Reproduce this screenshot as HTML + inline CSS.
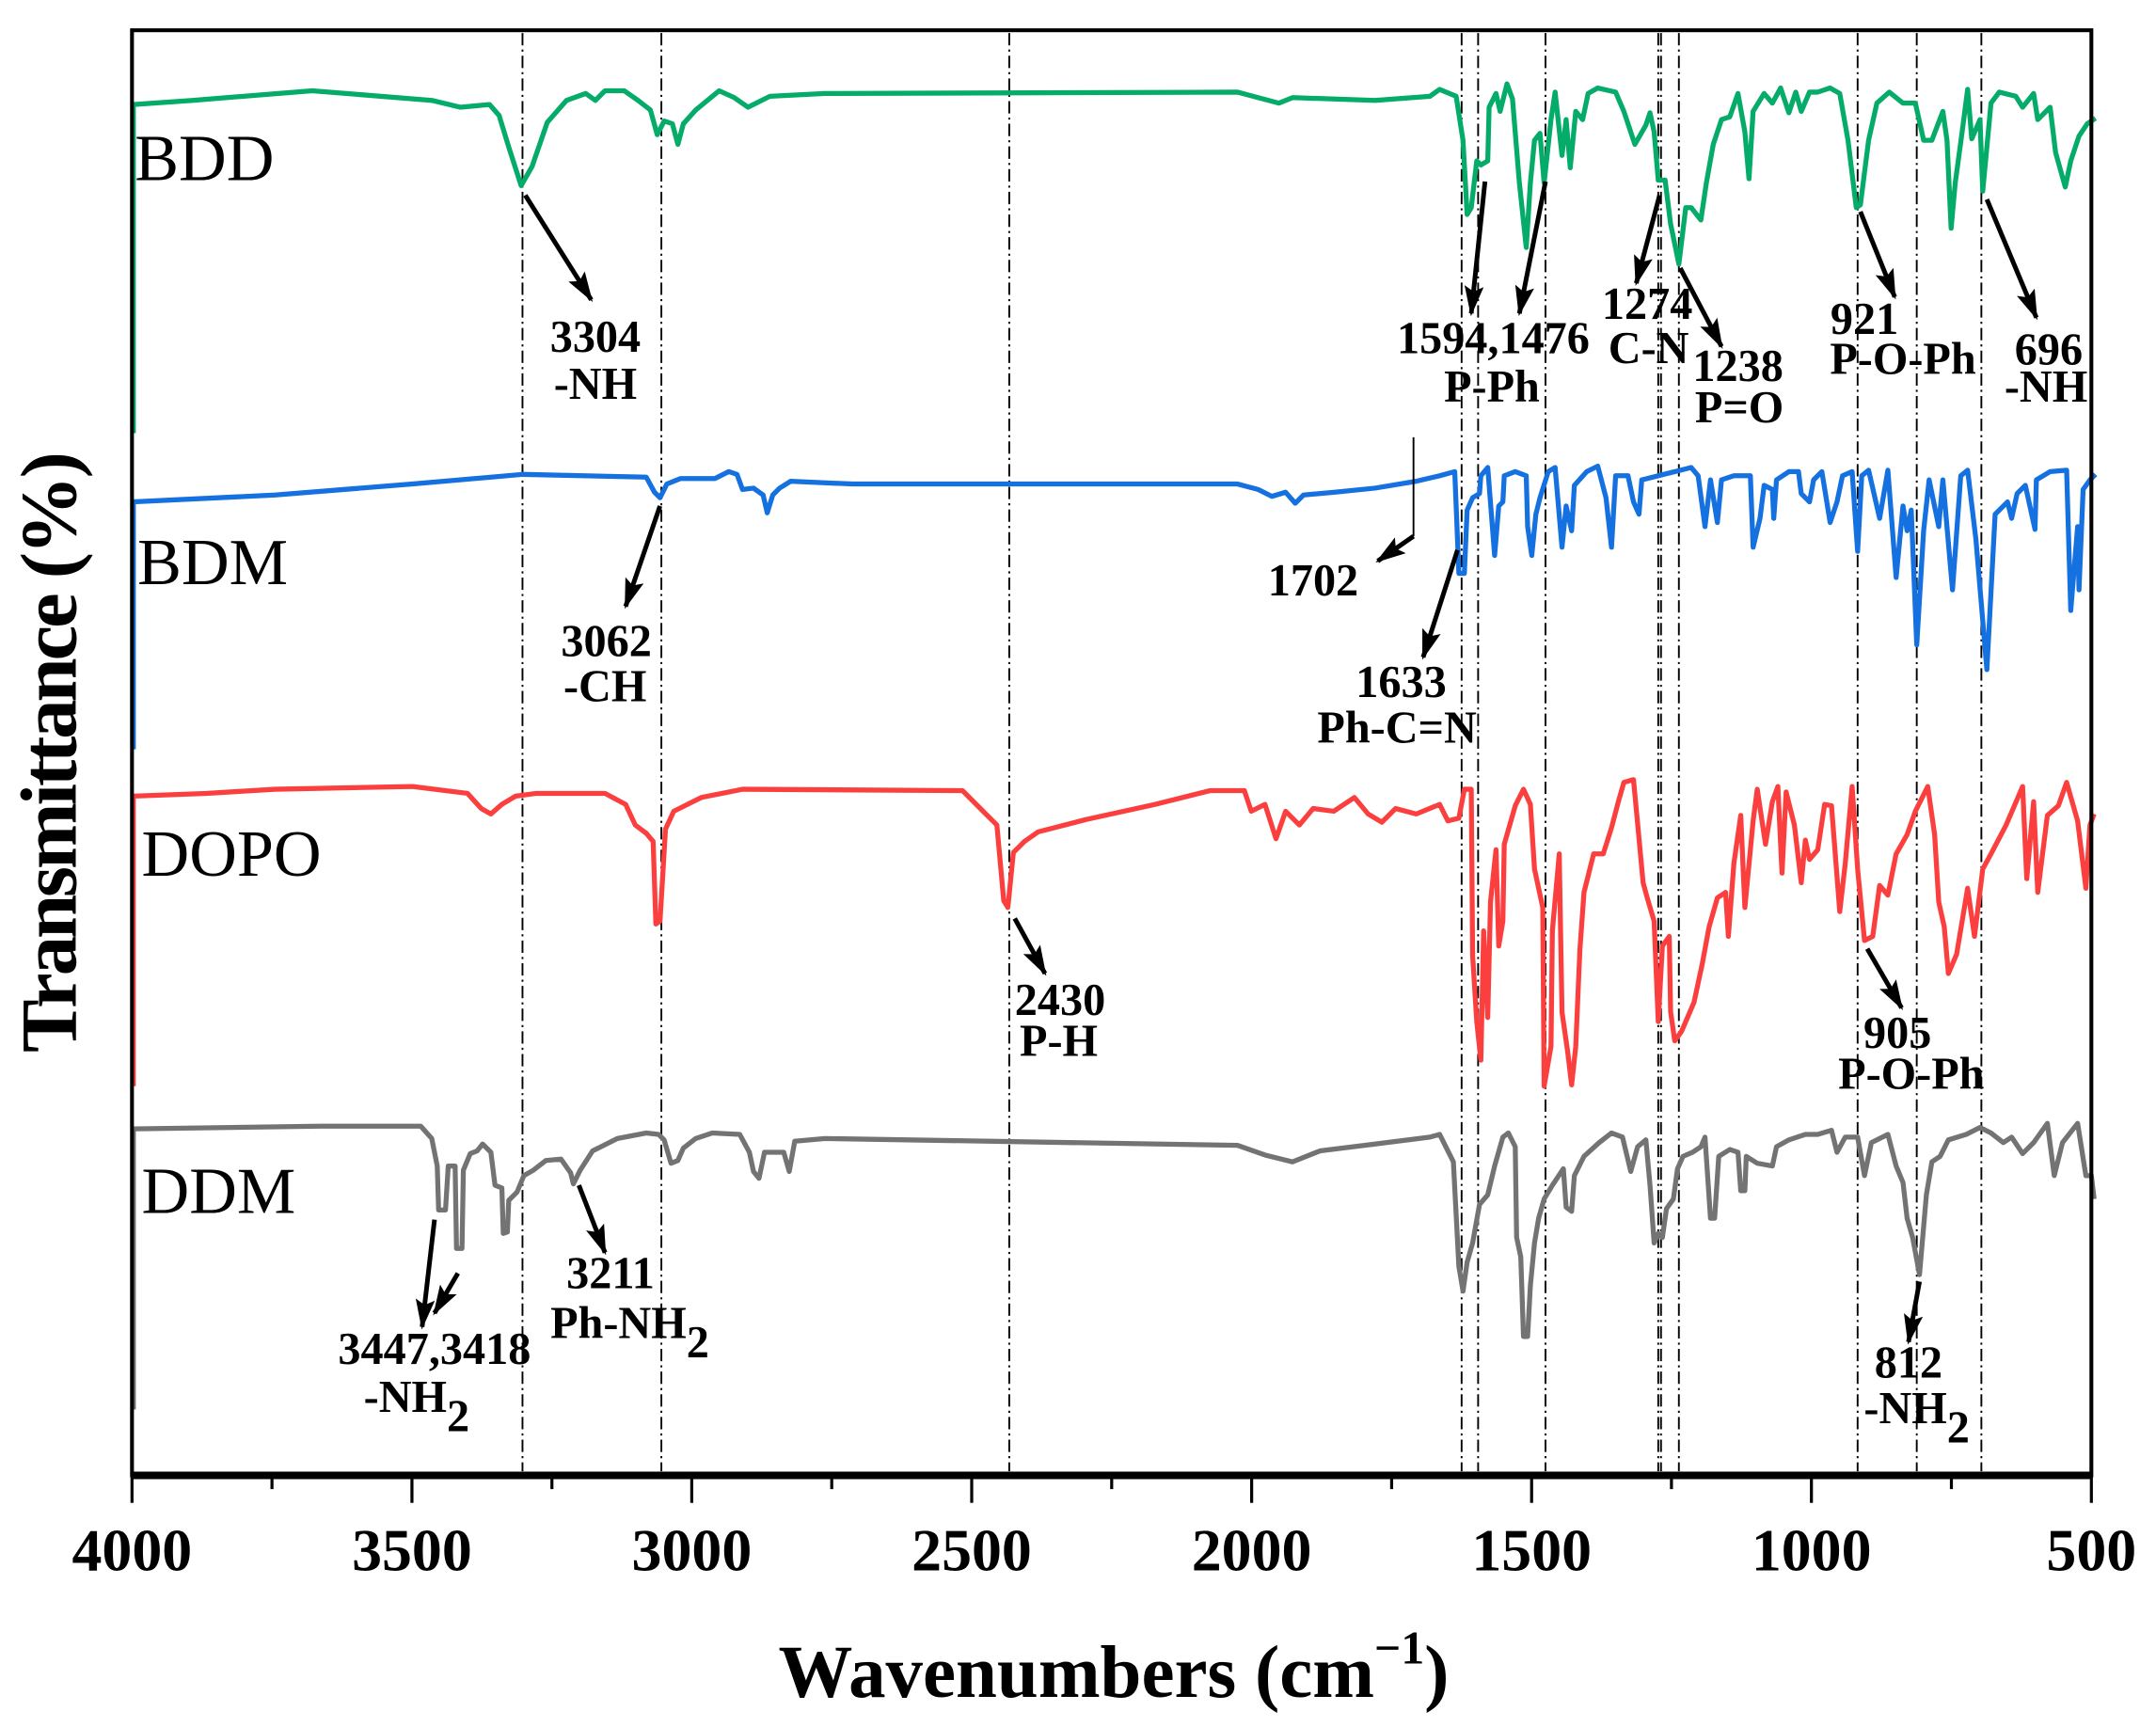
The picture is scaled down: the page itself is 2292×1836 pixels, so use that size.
<!DOCTYPE html>
<html><head><meta charset="utf-8"><style>html,body{margin:0;padding:0;background:#fff}svg{display:block}</style></head>
<body>
<svg width="2292" height="1836" viewBox="0 0 1568 1256" preserveAspectRatio="none" xmlns="http://www.w3.org/2000/svg" font-family="'Liberation Serif',serif">
<defs><marker id="ah" markerWidth="22" markerHeight="16" refX="20" refY="8" orient="auto" markerUnits="userSpaceOnUse"><path d="M0,1 L22,8 L0,15 L4,8 Z" fill="#000"/></marker></defs>
<rect width="1568" height="1256" fill="#fff"/>
<g stroke="#000" stroke-width="1.3" stroke-dasharray="9,3,1.5,3" fill="none">
<line x1="380" y1="24" x2="380" y2="1070"/><line x1="481" y1="24" x2="481" y2="1070"/><line x1="734" y1="24" x2="734" y2="1070"/>
<line x1="1063" y1="24" x2="1063" y2="1070"/><line x1="1075" y1="24" x2="1075" y2="1070"/><line x1="1124" y1="24" x2="1124" y2="1070"/>
<line x1="1206" y1="24" x2="1206" y2="1070"/><line x1="1208" y1="24" x2="1208" y2="1070"/><line x1="1221" y1="24" x2="1221" y2="1070"/>
<line x1="1351" y1="24" x2="1351" y2="1070"/><line x1="1394" y1="24" x2="1394" y2="1070"/><line x1="1441" y1="24" x2="1441" y2="1070"/>
</g>
<g fill="none" stroke-width="3.6" stroke-linejoin="round">
<polyline stroke="#05ab69" points="97,315 97,76 140,73 227,66 314,73 335,78 356,76 363,84 370,107 379,135 387,121 398,89 412,73 426,68 433,73 440,66 454,66 464,73 473,80 478,98 483,88 489,90 493,105 497,90 506,80 523,66 534,71 544,78 560,70 600,68 900,67 930,75 940,71 1000,73 1040,70 1047,65 1059,70 1064,102 1067,156 1070,151 1074,117 1077,120 1082,117 1083,78 1088,68 1091,81 1096,61 1100,72 1105,133 1110,180 1113,133 1116,102 1120,97 1123,133 1128,87 1131,67 1136,113 1139,87 1142,122 1146,81 1151,87 1155,68 1162,64 1175,67 1181,81 1189,105 1197,91 1200,82 1203,96 1206,131 1211,131 1215,163 1221,192 1226,151 1230,151 1237,160 1241,133 1246,105 1252,87 1258,85 1264,68 1269,96 1272,130 1275,81 1283,68 1289,75 1295,64 1301,82 1306,67 1310,81 1316,67 1322,67 1331,64 1338,68 1344,102 1350,151 1353,149 1359,102 1365,75 1374,67 1384,75 1393,75 1399,102 1405,102 1413,81 1416,102 1419,166 1422,133 1427,96 1431,65 1434,101 1440,87 1442,139 1448,75 1454,67 1466,70 1471,78 1479,68 1482,87 1491,78 1495,111 1502,136 1506,117 1512,99 1518,90 1524,86"/>
<polyline stroke="#1570e0" points="97,545 97,365 200,360 300,352 380,345 470,347 476,358 480,362 485,352 495,348 520,348 530,343 536,345 540,356 548,355 555,360 558,373 562,360 567,355 575,350 620,352 900,352 915,356 925,361 935,358 942,366 948,360 970,358 1000,355 1030,350 1047,346 1058,343 1061,417 1065,417 1067,371 1071,362 1076,359 1077,346 1082,340 1087,404 1090,368 1093,365 1094,346 1102,343 1110,346 1111,383 1114,404 1117,374 1120,362 1126,343 1131,340 1136,398 1139,368 1143,386 1145,353 1154,343 1162,339 1168,362 1172,398 1175,346 1184,346 1188,365 1192,374 1194,349 1206,346 1218,343 1230,340 1235,346 1240,383 1244,349 1249,380 1252,349 1261,346 1273,346 1275,398 1280,377 1283,353 1289,356 1290,377 1292,349 1301,343 1308,343 1310,359 1316,365 1319,349 1325,343 1331,380 1336,365 1340,346 1347,343 1351,401 1354,346 1359,342 1367,377 1373,342 1379,420 1384,368 1387,386 1390,371 1394,469 1399,386 1403,349 1410,383 1413,349 1420,429 1426,346 1431,342 1437,392 1445,487 1451,374 1460,365 1463,377 1467,359 1473,353 1480,385 1481,349 1491,343 1503,342 1506,444 1511,383 1512,429 1515,356 1520,349 1524,345"/>
<polyline stroke="#fb3f3f" points="97,790 97,579 150,577 200,574 300,572 340,577 350,588 357,592 365,585 375,579 390,577 440,577 455,585 462,600 470,606 475,612 477,672 480,670 484,603 490,590 510,580 540,574 700,575 715,590 725,600 730,655 733,660 737,620 745,612 755,605 790,596 840,585 880,575 905,575 910,590 920,585 928,610 935,590 945,600 955,588 970,590 985,580 995,592 1005,598 1015,588 1030,592 1047,585 1053,597 1061,595 1065,574 1070,574 1071,695 1074,743 1077,771 1079,677 1082,740 1084,656 1088,618 1090,688 1093,670 1094,614 1102,586 1108,574 1113,585 1116,632 1122,660 1123,790 1128,761 1129,677 1134,621 1136,736 1140,764 1143,789 1146,761 1149,691 1152,649 1159,621 1166,621 1172,602 1177,583 1181,569 1188,567 1191,599 1195,642 1198,653 1203,670 1206,743 1209,688 1214,681 1215,736 1218,757 1223,750 1232,729 1238,701 1243,674 1249,653 1255,649 1257,681 1261,628 1266,593 1269,660 1275,597 1278,574 1284,614 1289,583 1293,572 1296,635 1299,576 1305,600 1310,642 1313,611 1316,625 1322,618 1327,585 1332,586 1338,663 1342,628 1347,572 1351,632 1356,684 1362,681 1367,644 1373,651 1379,621 1387,607 1393,590 1402,572 1407,607 1410,656 1414,674 1417,708 1423,694 1431,646 1436,681 1442,632 1448,621 1459,600 1471,572 1474,639 1479,583 1482,649 1489,593 1497,586 1503,569 1511,597 1517,646 1520,600 1523,592"/>
<polyline stroke="#737373" points="97,1025 97,821 233,819 306,819 314,828 318,848 319,880 324,880 326,848 331,848 332,908 336,908 337,851 342,839 347,837 351,832 357,838 360,862 365,864 366,897 369,896 370,873 376,867 381,855 388,851 397,844 408,843 415,853 417,861 422,851 431,837 449,828 470,824 479,825 483,829 488,846 493,844 497,835 506,828 518,824 538,825 545,838 548,852 552,857 556,838 570,838 574,852 578,830 600,828 900,833 920,840 940,845 960,837 1000,832 1040,827 1047,825 1057,845 1061,921 1064,939 1067,918 1071,904 1076,876 1082,869 1087,848 1093,827 1097,824 1102,834 1103,900 1106,914 1108,972 1111,972 1113,935 1116,904 1119,886 1123,872 1129,862 1137,850 1139,878 1143,881 1145,855 1152,841 1163,831 1172,824 1180,827 1186,852 1191,834 1197,829 1200,862 1203,904 1206,897 1209,900 1212,879 1217,872 1220,850 1224,841 1231,838 1237,834 1240,827 1244,886 1247,886 1250,841 1258,836 1264,838 1266,866 1269,866 1270,841 1278,846 1289,848 1292,834 1301,829 1313,825 1322,825 1332,822 1336,838 1342,827 1351,827 1356,855 1361,831 1373,825 1379,848 1384,860 1387,886 1391,900 1396,927 1401,869 1405,845 1411,841 1417,829 1430,825 1440,820 1448,824 1457,831 1463,827 1471,839 1479,831 1489,817 1494,855 1500,831 1511,817 1517,855 1521,855 1523,872"/>
</g>
<g fill="none" stroke="#000">
<rect x="96" y="22" width="1425" height="1051" stroke-width="2.8"/>
<line x1="96" y1="1073" x2="1521" y2="1073" stroke-width="5.5"/>
<g stroke-width="2.2">
<line x1="96" y1="1073" x2="96" y2="1093"/><line x1="299.6" y1="1073" x2="299.6" y2="1093"/><line x1="503.1" y1="1073" x2="503.1" y2="1093"/><line x1="706.7" y1="1073" x2="706.7" y2="1093"/><line x1="910.3" y1="1073" x2="910.3" y2="1093"/><line x1="1113.9" y1="1073" x2="1113.9" y2="1093"/><line x1="1317.4" y1="1073" x2="1317.4" y2="1093"/><line x1="1521" y1="1073" x2="1521" y2="1093"/>
<line x1="197.8" y1="1073" x2="197.8" y2="1083"/><line x1="401.4" y1="1073" x2="401.4" y2="1083"/><line x1="604.9" y1="1073" x2="604.9" y2="1083"/><line x1="808.5" y1="1073" x2="808.5" y2="1083"/><line x1="1012.1" y1="1073" x2="1012.1" y2="1083"/><line x1="1215.6" y1="1073" x2="1215.6" y2="1083"/><line x1="1419.2" y1="1073" x2="1419.2" y2="1083"/>
</g>
<g stroke-width="3.4" marker-end="url(#ah)">
<line x1="382" y1="142" x2="430" y2="218"/>
<line x1="1080" y1="132" x2="1070" y2="228"/><line x1="1124" y1="132" x2="1105" y2="228"/>
<line x1="1207" y1="142" x2="1190" y2="206"/><line x1="1222" y1="195" x2="1252" y2="252"/>
<line x1="1353" y1="154" x2="1378" y2="216"/><line x1="1445" y1="145" x2="1481" y2="231"/>
<line x1="480" y1="368" x2="455" y2="441"/><line x1="1060" y1="400" x2="1035" y2="478"/>
<line x1="1028" y1="390" x2="1002" y2="408"/>
<line x1="738" y1="668" x2="760" y2="708"/><line x1="1358" y1="690" x2="1383" y2="733"/>
<line x1="316" y1="887" x2="307" y2="965"/><line x1="333" y1="926" x2="316" y2="955"/>
<line x1="421" y1="862" x2="440" y2="911"/><line x1="1396" y1="932" x2="1388" y2="976"/>
</g>
<line x1="1028" y1="318" x2="1028" y2="390" stroke-width="1.3"/>
</g>
<g font-size="43.7" font-weight="bold" text-anchor="middle" fill="#000">
<text x="96" y="1142">4000</text><text x="299.6" y="1142">3500</text><text x="503.1" y="1142">3000</text><text x="706.7" y="1142">2500</text><text x="910.3" y="1142">2000</text><text x="1113.9" y="1142">1500</text><text x="1317.4" y="1142">1000</text><text x="1521" y="1142">500</text>
</g>
<text x="810" y="1234" font-size="54" font-weight="bold" text-anchor="middle">Wavenumbers (cm<tspan font-size="34" dy="-24">−1</tspan><tspan dy="24">)</tspan></text>
<text transform="translate(55,547) rotate(-90)" font-size="58" font-weight="bold" text-anchor="middle" textLength="437">Transmittance (%)</text>
<g font-size="48">
<text x="98" y="131">BDD</text><text x="100" y="425">BDM</text><text x="103" y="637">DOPO</text><text x="103" y="882">DDM</text>
</g>
<g font-size="33" font-weight="bold" text-anchor="middle">
<text x="433" y="256">3304</text><text x="433" y="290">-NH</text>
<text x="1086" y="257">1594,1476</text><text x="1085" y="292">P-Ph</text>
<text x="1198" y="232">1274</text><text x="1199" y="264">C-N</text>
<text x="1264" y="277">1238</text><text x="1265" y="307">P=O</text>
<text x="1356" y="243">921</text><text x="1384" y="272">P-O-Ph</text>
<text x="1490" y="265">696</text><text x="1488" y="292">-NH</text>
<text x="441" y="477">3062</text><text x="440" y="510">-CH</text>
<text x="955" y="433">1702</text>
<text x="1019" y="507">1633</text><text x="1016" y="540">Ph-C=N</text>
<text x="771" y="738">2430</text><text x="770" y="768">P-H</text>
<text x="1380" y="762">905</text><text x="1390" y="792">P-O-Ph</text>
<text x="316" y="992">3447,3418</text><text x="303" y="1027">-NH<tspan dy="14">2</tspan></text>
<text x="444" y="937">3211</text><text x="458" y="973">Ph-NH<tspan dy="14">2</tspan></text>
<text x="1388" y="1002">812</text><text x="1394" y="1035">-NH<tspan dy="14">2</tspan></text>
</g>
</svg>
</body></html>
